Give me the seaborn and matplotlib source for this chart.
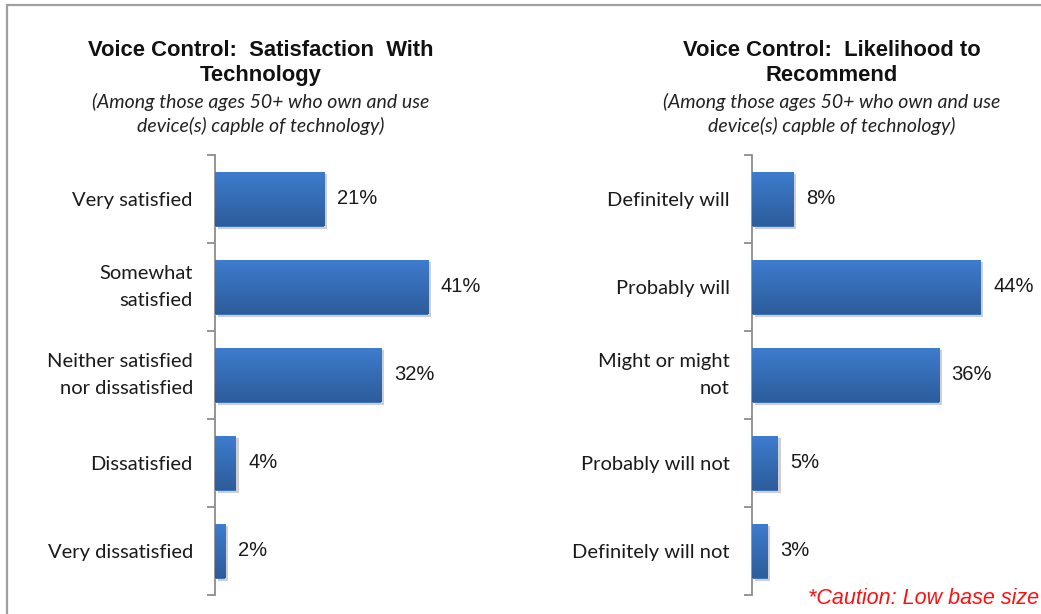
import numpy as np
import pandas as pd
import matplotlib
matplotlib.use("Agg")
import matplotlib.pyplot as plt
import seaborn as sns
from matplotlib.patches import Rectangle
from matplotlib.colors import LinearSegmentedColormap
import matplotlib.patheffects as pe

# ---- data ----
sat_categories = ["Very satisfied", "Somewhat\nsatisfied", "Neither satisfied\nnor dissatisfied",
                  "Dissatisfied", "Very dissatisfied"]
sat_values = [21, 41, 32, 4, 2]
rec_categories = ["Definitely will", "Probably will", "Might or might\nnot",
                  "Probably will not", "Definitely will not"]
rec_values = [8, 44, 36, 5, 3]

left_title = "Voice Control:  Satisfaction  With\nTechnology"
right_title = "Voice Control:  Likelihood to\nRecommend"
subtitle = "(Among those ages 50+ who own and use\ndevice(s) capble of technology)"
caution = "*Caution: Low base size"

sns.set_theme(style="white")
plt.rcParams["font.family"] = ["Lato", "DejaVu Sans"]

fig = plt.figure(figsize=(10.41, 6.14), dpi=100)
fig.patch.set_facecolor("white")

# outer border (top and left visible)
fig.patches.append(Rectangle((7 / 1041, -0.1), 1.2, (614 - 5) / 614 + 0.1,
                             transform=fig.transFigure, fill=False,
                             edgecolor="#a0a0a0", linewidth=1.6))

grad = LinearSegmentedColormap.from_list("g", ["#3e7dd0", "#2d5c9a"])
gradimg = np.linspace(0, 1, 256).reshape(-1, 1)

axes = []

def panel(rect, cats, vals, title, title_x):
    ax = fig.add_axes(rect)
    df = pd.DataFrame({"cat": cats, "val": vals})
    sns.barplot(data=df, x="val", y="cat", orient="h", ax=ax, color="#3a75c4",
                width=0.625, saturation=1)
    ax.set_xlabel("")
    ax.set_ylabel("")
    ax.set_xticks([])
    for s in ["top", "right", "bottom"]:
        ax.spines[s].set_visible(False)
    ax.spines["left"].set_color("#8c8c8c")
    ax.spines["left"].set_linewidth(1.3)
    ax.tick_params(axis="y", which="major", length=0, pad=16, labelsize=14.5,
                   labelcolor="#1a1a1a")
    ax.set_yticks(np.arange(-0.5, 5, 1), minor=True)
    ax.tick_params(axis="y", which="minor", length=6, width=1.3, color="#8c8c8c",
                   left=True)
    for p in ax.patches:
        p.set_edgecolor("none")
        p.set_path_effects([pe.SimplePatchShadow(offset=(2, -2), shadow_rgbFace="#b0b0b0",
                                                 alpha=0.6), pe.Normal()])
        x0, y0 = p.get_x(), p.get_y()
        w, h = p.get_width(), p.get_height()
        im = ax.imshow(gradimg, extent=[x0, x0 + w, y0 + h, y0], aspect="auto",
                       cmap=grad, origin="upper", zorder=3)
        im.set_clip_path(p)
    ax.set_aspect("auto")
    ax.set_xlim(0, 51)
    ax.set_ylim(4.5, -0.5)
    ax.bar_label(ax.containers[0], labels=[f"{v}%" for v in vals], padding=9,
                 fontsize=14.5, family="Liberation Sans", color="#1a1a1a")
    fig.text(title_x, 1 - 63 / 614, title, ha="center", va="center",
             fontsize=15.8, fontweight="bold", family="Liberation Sans",
             color="#111111", linespacing=1.3)
    fig.text(title_x, 1 - 114 / 614, subtitle, ha="center", va="center",
             fontsize=14, style="italic", color="#222222", linespacing=1.4)
    axes.append(ax)
    return ax

panel([215 / 1041, 19 / 614, 265 / 1041, 440 / 614], sat_categories, sat_values,
      left_title, 261 / 1041)
panel([752 / 1041, 19 / 614, 265 / 1041, 440 / 614], rec_categories, rec_values,
      right_title, 832 / 1041)

fig.text(808 / 1041, 1 - 598 / 614, caution, ha="left", va="center", fontsize=15.5,
         style="italic", family="Liberation Sans", color="#ff1010")

for ax in axes:
    for t in ax.get_yticklabels():
        t.set_linespacing(1.75)
        if "\n" in t.get_text():
            t.set_verticalalignment("center")

fig.savefig("out.png", dpi=100)
